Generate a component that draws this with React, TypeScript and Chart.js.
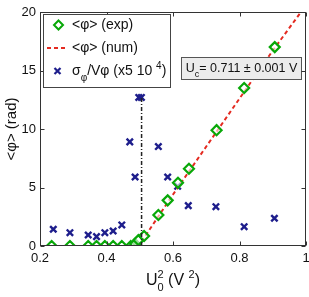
import React, { useEffect, useRef } from "react";
import { Chart, registerables } from "chart.js";

Chart.register(...registerables);

const xExp = [0.235, 0.29, 0.345, 0.37, 0.395, 0.42, 0.446, 0.473, 0.486, 0.496, 0.513, 0.556, 0.584, 0.615, 0.648, 0.731, 0.814, 0.906];
const yExp = [0, 0, 0, 0, 0, 0, 0, 0, 0.17, 0.5, 0.85, 2.65, 3.9, 5.4, 6.6, 9.9, 13.5, 17.0];

const xSig = [0.24, 0.29, 0.345, 0.37, 0.395, 0.42, 0.446, 0.47, 0.486, 0.497, 0.505, 0.556, 0.584, 0.614, 0.646, 0.729, 0.814, 0.905];
const ySig = [1.43, 1.14, 0.94, 0.8, 1.14, 1.28, 1.8, 8.9, 5.9, 12.7, 12.7, 8.5, 5.9, 5.1, 3.45, 3.36, 1.65, 2.37];

const xNum = [0.49, 0.5, 0.52, 0.56, 0.6, 0.7, 0.8, 0.9, 0.985];
const yNum = [0, 0.2, 1.0, 2.7, 4.4, 8.5, 12.6, 16.7, 20];

const xCrit = [0.5055, 0.5055];
const yCrit = [0, 12.7];

const xTicks = [0.2, 0.4, 0.6, 0.8, 1];
const xTickLabels = ["0.2", "0.4", "0.6", "0.8", "1"];
const yTicks = [0, 5, 10, 15, 20];

const legendLabels = ["<φ> (exp)", "<φ> (num)", "σ"];
const annotationText = "= 0.711 ± 0.001 V";

const FONT = "'Liberation Sans', Arial, sans-serif";
const GREEN = "#08a808";
const BLUE = "#1e1e8c";
const RED = "#e42a20";

type Part = { t: string; s?: "sub" | "sup"; stack?: boolean };

function drawRich(ctx: CanvasRenderingContext2D, parts: Part[], x: number, y: number, size: number, small: number, align: "left" | "center") {
  ctx.textBaseline = "middle";
  ctx.textAlign = "left";
  const widths = parts.map((p) => {
    ctx.font = `${p.s ? small : size}px ${FONT}`;
    return ctx.measureText(p.t).width;
  });
  let total = 0;
  parts.forEach((p, i) => {
    if (!p.stack) total += widths[i];
  });
  let cx = align === "center" ? x - total / 2 : x;
  let last = cx;
  parts.forEach((p, i) => {
    ctx.font = `${p.s ? small : size}px ${FONT}`;
    let dy = 0;
    if (p.s === "sub") dy = size * 0.45;
    if (p.s === "sup") dy = -size * 0.4;
    const px = p.stack ? last : cx;
    ctx.fillText(p.t, px, y + dy);
    if (!p.stack) {
      last = cx;
      cx += widths[i];
    }
  });
}

const framePlugin = {
  id: "frameDeco",
  afterDatasetsDraw(chart: any) {
    const ctx: CanvasRenderingContext2D = chart.ctx;
    ctx.save();
    const bx = 181.5, by = 57.5, bw = 120, bh = 22;
    ctx.fillStyle = "#ececec";
    ctx.fillRect(bx, by, bw, bh);
    ctx.strokeStyle = "#555";
    ctx.lineWidth = 1;
    ctx.strokeRect(bx, by, bw, bh);
    ctx.fillStyle = "#111";
    drawRich(ctx, [{ t: "U" }, { t: "c", s: "sub" }, { t: annotationText }], bx + bw / 2, by + bh / 2, 12.5, 9, "center");
    ctx.restore();
  },
  afterDraw(chart: any) {
    const ctx: CanvasRenderingContext2D = chart.ctx;
    const a = chart.chartArea;
    const xs = chart.scales.x;
    const ys = chart.scales.y;
    ctx.save();
    ctx.strokeStyle = "#333";
    ctx.lineWidth = 1;
    const L = Math.round(a.left) + 0.5, R = Math.round(a.right) - 0.5;
    const T = Math.round(a.top) + 0.5, B = Math.round(a.bottom) - 0.5;
    ctx.strokeRect(L, T, R - L, B - T);
    ctx.beginPath();
    xTicks.forEach((v) => {
      const px = Math.round(xs.getPixelForValue(v)) + 0.5;
      ctx.moveTo(px, B); ctx.lineTo(px, B - 4);
      ctx.moveTo(px, T); ctx.lineTo(px, T + 4);
    });
    yTicks.forEach((v) => {
      const py = Math.round(ys.getPixelForValue(v)) + 0.5;
      ctx.moveTo(L, py); ctx.lineTo(L + 4, py);
      ctx.moveTo(R, py); ctx.lineTo(R - 4, py);
    });
    ctx.stroke();

    // x tick labels
    ctx.fillStyle = "#111";
    ctx.font = `13px ${FONT}`;
    ctx.textAlign = "center";
    ctx.textBaseline = "top";
    xTicks.forEach((v, i) => {
      ctx.fillText(xTickLabels[i], xs.getPixelForValue(v), a.bottom + 6);
    });

    // legend
    const lx = 43.5, ly = 14.5, lw = 127, lh = 73;
    ctx.fillStyle = "#fff";
    ctx.fillRect(lx, ly, lw, lh);
    ctx.strokeStyle = "#444";
    ctx.strokeRect(lx, ly, lw, lh);
    ctx.strokeStyle = GREEN;
    ctx.lineWidth = 2;
    ctx.beginPath();
    ctx.moveTo(58.5, 20.5); ctx.lineTo(63, 25); ctx.lineTo(58.5, 29.5); ctx.lineTo(54, 25); ctx.closePath();
    ctx.stroke();
    ctx.strokeStyle = RED;
    ctx.setLineDash([4, 3]);
    ctx.beginPath();
    ctx.moveTo(47, 48); ctx.lineTo(68, 48);
    ctx.stroke();
    ctx.setLineDash([]);
    ctx.strokeStyle = BLUE;
    ctx.lineWidth = 2.2;
    ctx.beginPath();
    ctx.moveTo(54.5, 68); ctx.lineTo(60.5, 74);
    ctx.moveTo(60.5, 68); ctx.lineTo(54.5, 74);
    ctx.stroke();

    ctx.fillStyle = "#111";
    drawRich(ctx, [{ t: legendLabels[0] }], 72, 25.5, 14, 10, "left");
    drawRich(ctx, [{ t: legendLabels[1] }], 72, 48.5, 14, 10, "left");
    drawRich(ctx, [{ t: legendLabels[2] }, { t: "φ", s: "sub" }, { t: "/Vφ (x5 10 " }, { t: "4", s: "sup" }, { t: ")" }], 72, 71.5, 14, 10, "left");

    drawRich(ctx, [{ t: "U" }, { t: "0", s: "sub" }, { t: "2", s: "sup", stack: true }, { t: " (V " }, { t: "2", s: "sup" }, { t: ")" }], (a.left + a.right) / 2, 281, 16, 11, "center");
    ctx.save();
    ctx.translate(12, (a.top + a.bottom) / 2);
    ctx.rotate(-Math.PI / 2);
    drawRich(ctx, [{ t: "<φ> (rad)" }], 0, 0, 15, 10, "center");
    ctx.restore();
    ctx.restore();
  },
};

export default function App() {
  const ref = useRef<HTMLCanvasElement | null>(null);
  useEffect(() => {
    if (!ref.current) return;
    const toPts = (xs: number[], ys: number[]) => xs.map((x, i) => ({ x, y: ys[i] }));
    const chart = new Chart(ref.current, {
      type: "scatter",
      data: {
        datasets: [
          {
            label: "crit",
            data: toPts(xCrit, yCrit),
            showLine: true,
            borderColor: "#222",
            borderWidth: 1.5,
            borderDash: [4, 2, 1, 2],
            pointRadius: 0,
          },
          {
            label: "exp",
            data: toPts(xExp, yExp),
            pointStyle: "rectRot",
            pointRadius: 5,
            borderColor: GREEN,
            backgroundColor: "rgba(255,255,255,0.6)",
            borderWidth: 2.2,
          },
          {
            label: "num",
            data: toPts(xNum, yNum),
            showLine: true,
            borderColor: RED,
            borderWidth: 2,
            borderDash: [4, 3],
            pointRadius: 0,
          },
          {
            label: "sigma",
            data: toPts(xSig, ySig),
            pointStyle: "crossRot",
            pointRadius: 4.5,
            borderColor: BLUE,
            borderWidth: 2.4,
          },
        ],
      },
      options: {
        animation: false,
        responsive: false,
        layout: { autoPadding: false, padding: { left: 0, right: 3, top: 12, bottom: 0 } },
        plugins: { legend: { display: false }, tooltip: { enabled: false } },
        scales: {
          x: {
            type: "linear",
            min: 0.2,
            max: 1,
            afterFit: (s: any) => { s.height = 51; },
            afterBuildTicks: (s: any) => { s.ticks = xTicks.map((v) => ({ value: v })); },
            grid: { display: false, drawTicks: false },
            border: { display: false },
            ticks: { display: false },
          },
          y: {
            type: "linear",
            min: 0,
            max: 20,
            afterFit: (s: any) => { s.width = 40; },
            afterBuildTicks: (s: any) => { s.ticks = yTicks.map((v) => ({ value: v })); },
            grid: { display: false, drawTicks: false },
            border: { display: false },
            ticks: {
              padding: 4,
              color: "#111",
              font: { family: FONT, size: 13 },
            },
          },
        },
      },
      plugins: [framePlugin],
    });
    return () => chart.destroy();
  }, []);
  return (
    <div style={{ position: "fixed", left: 0, top: 0, width: 309, height: 297, background: "#fff" }}>
      <canvas ref={ref} width={309} height={297} style={{ display: "block" }} />
    </div>
  );
}
